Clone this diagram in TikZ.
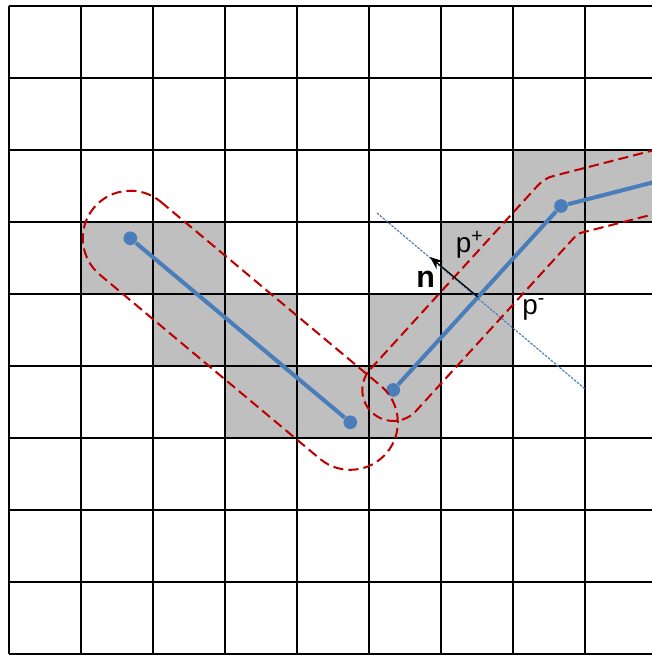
\documentclass[tikz,border=0pt]{standalone}
\usepackage{fontspec}
\setsansfont{Liberation Sans}
\usetikzlibrary{calc,arrows.meta}

\definecolor{cellgray}{RGB}{191,191,191}
\definecolor{segblue}{RGB}{74,126,187}
\definecolor{zonered}{RGB}{192,0,0}

\tikzset{
  seg/.style={segblue, line width=1.6pt},
  dot/.style={circle, fill=segblue, inner sep=0pt, minimum size=0.19cm},
  zone/.style={zonered, line width=0.8pt, dash pattern=on 4pt off 2pt},
  lbl/.style={inner sep=0pt, font=\sffamily\fontsize{11}{13}\selectfont}
}

\begin{document}
\begin{tikzpicture}
\useasboundingbox (-0.125,0.083) rectangle (8.93,-9.014);
\clip (-0.125,0.083) rectangle (8.93,-9.014);
\fill[white] (-0.125,0.083) rectangle (8.93,-9.014);

% covered cells
\foreach \c/\r in {7/2,8/2,1/3,2/3,6/3,7/3,2/4,3/4,5/4,6/4,3/5,4/5,5/5}
  \fill[cellgray] (\c,-\r) rectangle ++(1,-1);
\draw[line width=0.7pt] (0,0) grid (9,-9);

% end points
\node[dot] (A) at (1.685,-3.226) {};
\node[dot] (B) at (4.740,-5.782) {};
\node[dot] (C) at (5.337,-5.333) {};
\node[dot] (D) at (7.667,-2.778) {};
\coordinate (E) at (10.19,-2.13);

% splitting plane and normal
\coordinate (pl1) at (5.111,-2.875);
\coordinate (pl2) at (8.000,-5.319);
\coordinate (P) at (6.514,-4.042);
\coordinate (ntip) at (5.847,-3.486);
\draw[segblue, line width=0.45pt, dash pattern=on 1pt off 0.5pt] (pl1) -- (pl2);

% swept zones
\draw[zone] ($(A)+(50.1:0.66)$) -- ($(B)+(50.1:0.66)$)
  arc[start angle=50.1, delta angle=-180, radius=0.66]
  -- ($(A)+(-129.9:0.66)$)
  arc[start angle=-129.9, delta angle=-180, radius=0.66] -- cycle;
\draw[zone] ($(C)+(137.6:0.43)$) -- ($(D)+(137.6:0.43)$)
  arc[start angle=137.6, delta angle=-33.2, radius=0.43]
  -- ($(E)+(104.4:0.43)$) -- ($(E)+(-75.6:0.43)$)
  -- ($(D)+(-59:0.449)$) -- ($(C)+(-42.4:0.43)$)
  arc[start angle=-42.4, delta angle=-180, radius=0.43] -- cycle;

% segments
\draw[seg] (A) -- (B);
\draw[seg] (C) -- (D) -- (E);

\draw[-{Stealth[length=5pt,width=4pt]}, line width=0.5pt] (P) -- (ntip);

\node[lbl] (pplus) at (6.403,-3.319) {p\textsuperscript{+}};
\node[lbl, font=\sffamily\bfseries\fontsize{12}{14}\selectfont] (nlab) at (5.785,-3.799) {n};
\node[lbl] (pminus) at (7.29,-4.22) {p\textsuperscript{-}};

\end{tikzpicture}
\end{document}
